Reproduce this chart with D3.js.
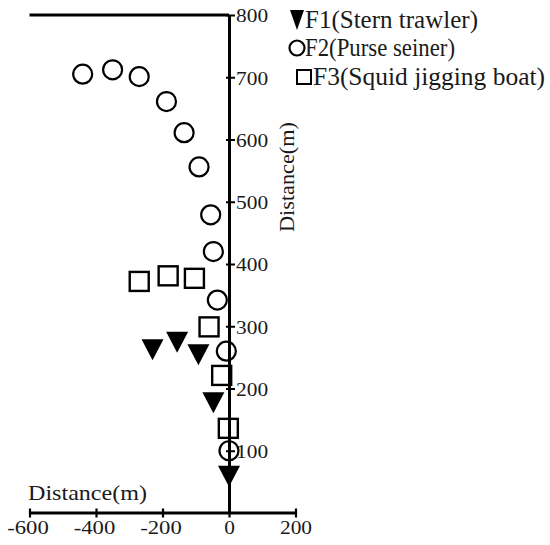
<!DOCTYPE html>
<html>
<head>
<meta charset="utf-8">
<script src="https://cdn.jsdelivr.net/npm/d3@7"></script>
<style>
  body { margin: 0; background: #fff; }
  svg { display: block; }
  text { font-family: "Liberation Serif", "Times New Roman", serif; fill: #1a1a1a; }
</style>
</head>
<body>
<svg id="chart" width="550" height="545"></svg>
<script>
// ---- data ----
const xTicks = [-600, -400, -200, 0, 200];
const yTicks = [100, 200, 300, 400, 500, 600, 700, 800];

const f1X = [-230, -156, -92, -47, 0];
const f1Y = [263, 275, 255, 178, 60];

const f2X = [-440, -350, -270, -188, -135, -90, -55, -47, -35, -8, 0];
const f2Y = [705, 712, 701, 661, 611, 556, 479, 420, 342, 260, 100];

const f3X = [-270, -183, -104, -60, -22, -2];
const f3Y = [372, 381, 377, 299, 221, 136];

const legendLabels = ["F1(Stern trawler)", "F2(Purse seiner)", "F3(Squid jigging boat)"];
const axisTitle = "Distance(m)";

// ---- drawing ----
const svg = d3.select("#chart");
const x = d3.scaleLinear().domain([-600, 200]).range([29.5, 295.5]);
const y = d3.scaleLinear().domain([0, 800]).range([513, 15]);

const digitW = 10.7, minusW = 9.5;
function labelLen(s) {
  let L = 0;
  for (const c of s) L += (c === "-" || c === "\u2212") ? minusW : digitW;
  return L;
}

// top line
svg.append("line")
  .attr("x1", x(-600)).attr("x2", x(0))
  .attr("y1", y(800)).attr("y2", y(800))
  .attr("stroke", "#000").attr("stroke-width", 3);

// bottom axis
const gx = svg.append("g").attr("transform", `translate(0,${y(0) - 0.5})`)
  .call(d3.axisBottom(x).tickValues(xTicks).tickSizeOuter(0).tickFormat(d3.format("d")));
gx.select(".domain").attr("stroke", "#000").attr("stroke-width", 3);
gx.selectAll(".tick line").attr("y1", -4).attr("y2", 5).attr("stroke", "#000").attr("stroke-width", 2.2);
gx.selectAll(".tick text")
  .text(d => String(d))
  .attr("y", 21).attr("dy", 0)
  .attr("dx", d => d < 0 ? -2 : 0)
  .style("font-size", "19px")
  .style("font-family", "'Liberation Serif', serif")
  .attr("fill", "#1a1a1a")
  .attr("textLength", d => labelLen(String(d)))
  .attr("lengthAdjust", "spacingAndGlyphs");

// right (vertical) axis at x = 0
const gy = svg.append("g").attr("transform", `translate(${x(0)},0)`)
  .call(d3.axisRight(y).tickValues(yTicks).tickSizeOuter(0).tickFormat(d3.format("d")));
gy.select(".domain").attr("stroke", "#000").attr("stroke-width", 3);
gy.selectAll(".tick line").attr("x1", -3).attr("x2", 6).attr("stroke", "#000").attr("stroke-width", 2);
gy.selectAll(".tick text")
  .attr("x", 7).attr("dy", "0.36em")
  .style("font-size", "19px")
  .style("font-family", "'Liberation Serif', serif")
  .attr("fill", "#1a1a1a")
  .attr("textLength", d => labelLen(String(d)))
  .attr("lengthAdjust", "spacingAndGlyphs");

// axis titles
svg.append("text")
  .attr("x", 28).attr("y", 500)
  .style("font-size", "21px")
  .attr("textLength", 119).attr("lengthAdjust", "spacingAndGlyphs")
  .text(axisTitle);

svg.append("text")
  .attr("transform", `translate(294,177) rotate(-90)`)
  .attr("text-anchor", "middle")
  .style("font-size", "21px")
  .attr("textLength", 110).attr("lengthAdjust", "spacingAndGlyphs")
  .text(axisTitle);

// markers
const triPath = "M-11,-10L11,-10L0,11Z";
svg.append("g").selectAll("path.f1")
  .data(f1X.map((v, i) => [v, f1Y[i]]))
  .join("path")
  .attr("class", "f1")
  .attr("d", triPath)
  .attr("transform", d => `translate(${x(d[0])},${y(d[1])})`)
  .attr("fill", "#000");

svg.append("g").selectAll("circle")
  .data(f2X.map((v, i) => [v, f2Y[i]]))
  .join("circle")
  .attr("cx", d => x(d[0])).attr("cy", d => y(d[1]))
  .attr("r", 9.5)
  .attr("fill", "none").attr("stroke", "#000").attr("stroke-width", 2.2);

const sq = 19;
svg.append("g").selectAll("rect")
  .data(f3X.map((v, i) => [v, f3Y[i]]))
  .join("rect")
  .attr("x", d => x(d[0]) - sq / 2).attr("y", d => y(d[1]) - sq / 2)
  .attr("width", sq).attr("height", sq)
  .attr("fill", "none").attr("stroke", "#000").attr("stroke-width", 2.4);

// legend
const lg = svg.append("g");
lg.append("path").attr("d", "M-7,-10L7,-10L0,10Z").attr("transform", "translate(297,20)").attr("fill", "#000");
lg.append("circle").attr("cx", 297).attr("cy", 48).attr("r", 7.5)
  .attr("fill", "none").attr("stroke", "#000").attr("stroke-width", 2.2);
lg.append("rect").attr("x", 297).attr("y", 70).attr("width", 14).attr("height", 14)
  .attr("fill", "none").attr("stroke", "#000").attr("stroke-width", 2);

const legX = [305, 305, 313];
const legY = [28, 56, 85];
const legLen = [173, 150, 232];
lg.selectAll("text.leg")
  .data(legendLabels)
  .join("text")
  .attr("class", "leg")
  .attr("x", (d, i) => legX[i]).attr("y", (d, i) => legY[i])
  .style("font-size", "25px")
  .attr("textLength", (d, i) => legLen[i]).attr("lengthAdjust", "spacingAndGlyphs")
  .text(d => d);
</script>
</body>
</html>
